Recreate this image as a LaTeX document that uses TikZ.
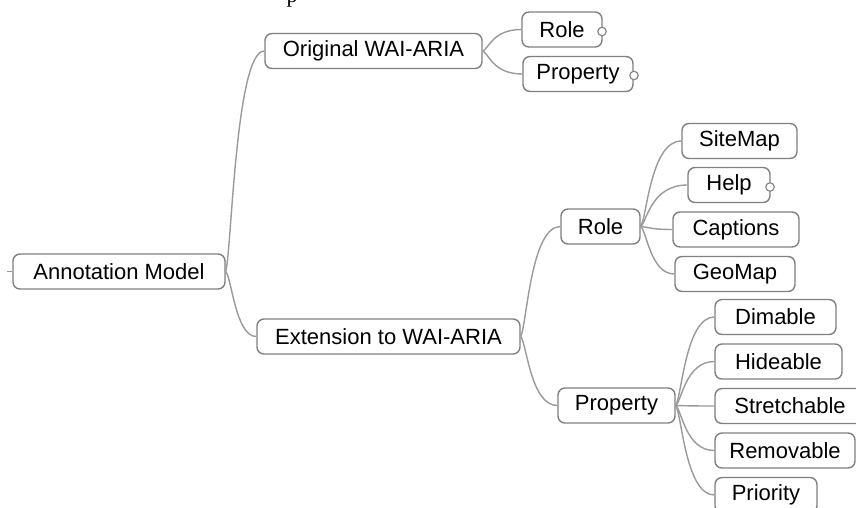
\documentclass[tikz,border=0pt]{standalone}
\usepackage{fontspec}
\setmainfont{Liberation Sans}
\newfontfamily\serifp{Liberation Serif}
\usetikzlibrary{calc}
\definecolor{boxgray}{HTML}{808080}
\definecolor{linegray}{HTML}{9A9A9A}
\tikzset{
  box/.style={draw=boxgray, line width=1.4pt, fill=white, rounded corners=7pt,
    minimum height=35pt, inner sep=0pt, font=\fontsize{22}{26}\selectfont, text=black},
  conn/.style={draw=linegray, line width=1.4pt},
  knob/.style={circle, draw=boxgray, fill=white, line width=1.1pt, minimum size=8.5pt, inner sep=0pt},
}
\newcommand\branch[2]{%
  \draw[conn] let \p1=(#1.east), \p2=(#2.west) in
    (#1.east) .. controls (\x1+6pt, {\y1+0.1*(\y2-\y1)}) and (\x1+10pt, \y2) .. (#2.west);}
\begin{document}
\begin{tikzpicture}[x=1pt,y=-1pt]
\clip (0,0) rectangle (856,507);
\fill[white] (0,0) rectangle (856,507);
% cut-off caption letter at the top
\node[font=\serifp\fontsize{22}{26}\selectfont, anchor=base, inner sep=0pt] (capp) at (292,2.5) {p};
% nodes
\node[box, minimum width=212pt] (am) at (119,271.5) {Annotation Model};
\node[box, minimum width=217pt] (orig) at (373.5,51) {Original WAI-ARIA};
\node[box, minimum width=80pt] (r1) at (562,29.5) {Role};
\node[box, minimum width=110pt] (p1) at (578,74) {Property};
\node[box, minimum width=263pt] (ext) at (388.5,336.5) {Extension to WAI-ARIA};
\node[box, minimum width=79pt] (r2) at (600.5,226.5) {Role};
\node[box, minimum width=115pt] (site) at (739.5,141) {SiteMap};
\node[box, minimum width=82pt] (help) at (729,185) {Help};
\node[box, minimum width=126pt] (capt) at (736,229.5) {Captions};
\node[box, minimum width=120pt] (geo) at (735,274) {GeoMap};
\node[box, minimum width=117pt] (p2) at (616.5,405.5) {Property};
\node[box, minimum width=121pt] (dim) at (775.5,317) {Dimable};
\node[box, minimum width=127pt] (hide) at (778.5,361.5) {Hideable};
\node[box, minimum width=150pt] (str) at (790,406) {Stretchable};
\node[box, minimum width=140pt] (rem) at (785,450.5) {Removable};
\node[box, minimum width=102pt] (prio) at (766,495) {Priority};
% knobs
\node[knob] (r1k) at (602,31.5) {};
\node[knob] (p1k) at (634,75.5) {};
\node[knob] (helpk) at (770,187) {};
% root stub
\coordinate (rootin) at (7,271.5);
\draw[conn] (rootin) -- (am.west);
% connectors
\branch{am}{orig}
\branch{am}{ext}
\branch{orig}{r1}
\branch{orig}{p1}
\branch{ext}{r2}
\branch{ext}{p2}
\branch{r2}{site}
\branch{r2}{help}
\branch{r2}{capt}
\branch{r2}{geo}
\branch{p2}{dim}
\branch{p2}{hide}
\branch{p2}{str}
\branch{p2}{rem}
\branch{p2}{prio}
\end{tikzpicture}
\end{document}
